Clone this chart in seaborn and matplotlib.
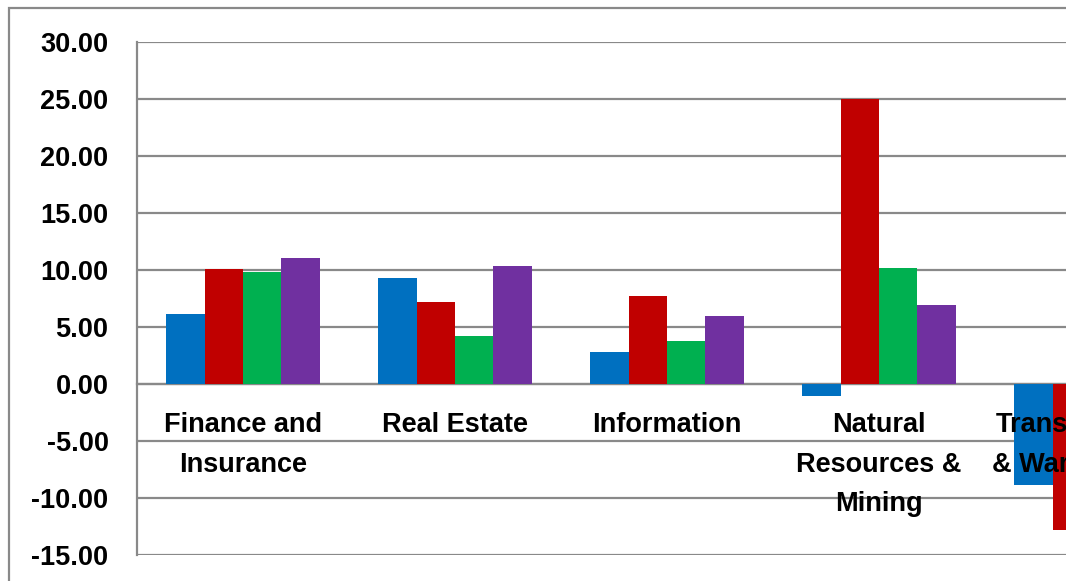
import matplotlib
matplotlib.use("Agg")
import numpy as np
import pandas as pd
import seaborn as sns
import matplotlib.pyplot as plt
from matplotlib.patches import Rectangle
from matplotlib.ticker import FixedLocator

# ---- data ----
categories = ["Finance and\nInsurance", "Real Estate", "Information",
              "Natural\nResources &\nMining", "Transportation\n& Warehousing"]
series_names = ["Series 1", "Series 2", "Series 3", "Series 4"]
series_1 = [6.1, 9.3, 2.8, -1.05, -8.9]
series_2 = [10.1, 7.2, 7.7, 25.0, -12.8]
series_3 = [9.8, 4.25, 3.75, 10.2, np.nan]   # last value not visible (clipped)
series_4 = [11.05, 10.35, 6.0, 6.9, np.nan]  # last value not visible (clipped)
y_ticks = [-15, -10, -5, 0, 5, 10, 15, 20, 25, 30]
colors = ["#0070C0", "#C00000", "#00B050", "#7030A0"]

rows = []
for name, vals in zip(series_names, [series_1, series_2, series_3, series_4]):
    for c, v in zip(categories, vals):
        rows.append({"category": c, "series": name, "value": v})
df = pd.DataFrame(rows).dropna()

sns.set_style("white")
plt.rcParams["font.family"] = ["Liberation Sans", "DejaVu Sans"]
plt.rcParams["font.weight"] = "bold"
plt.rcParams["text.color"] = "black"

W, H = 1066, 581
fig = plt.figure(figsize=(W / 100, H / 100), dpi=100)
ax = fig.add_axes([137 / W, (H - 555) / H, 1060 / W, (555 - 42) / H])

grid_c = "#898989"
for t in y_ticks:
    ax.axhline(t, color=grid_c, linewidth=1.6, zorder=0.5)

sns.barplot(data=df, x="category", y="value", hue="series",
            order=categories, hue_order=series_names, palette=colors,
            width=0.726, errorbar=None, linewidth=0, legend=False,
            saturation=1, ax=ax, zorder=1)

ax.set_xlim(-0.5, 4.5)
ax.set_ylim(-15, 30)
ax.grid(False)
ax.set_axisbelow(False)
ax.set_xlabel("")
ax.set_ylabel("")

for s in ["top", "right"]:
    ax.spines[s].set_visible(False)
ax.spines["left"].set_color(grid_c)
ax.spines["left"].set_linewidth(1.6)
ax.spines["left"].set_zorder(0.6)
ax.spines["bottom"].set_position(("data", 0))
ax.spines["bottom"].set_color(grid_c)
ax.spines["bottom"].set_linewidth(1.6)
ax.spines["bottom"].set_zorder(0.6)

ax.tick_params(axis="y", which="major", length=6.5, width=1.6, color=grid_c,
               pad=14, direction="out", labelsize=19.5, labelcolor="black")
ax.xaxis.set_minor_locator(FixedLocator([0.5, 1.5, 2.5, 3.5]))
ax.tick_params(axis="x", which="minor", length=7.5, width=1.6, color=grid_c,
               direction="out")
ax.tick_params(axis="x", which="major", length=0, pad=20, labelsize=19.5,
               labelcolor="black")

ax.set_yticks(y_ticks, labels=[f"{t:.2f}" for t in y_ticks],
              fontweight="bold", fontsize=19.5, color="black")
ax.set_xticks(range(len(categories)), labels=categories,
              fontweight="bold", fontsize=19.5, linespacing=1.69,
              color="black")

# outer chart-area border
fig.patches.append(Rectangle((9 / W, -0.1), 1.2, 1 - 8 / H + 0.1,
                             transform=fig.transFigure, fill=False,
                             edgecolor=grid_c, linewidth=1.6, clip_on=False))

fig.savefig("out.png", dpi=100)
